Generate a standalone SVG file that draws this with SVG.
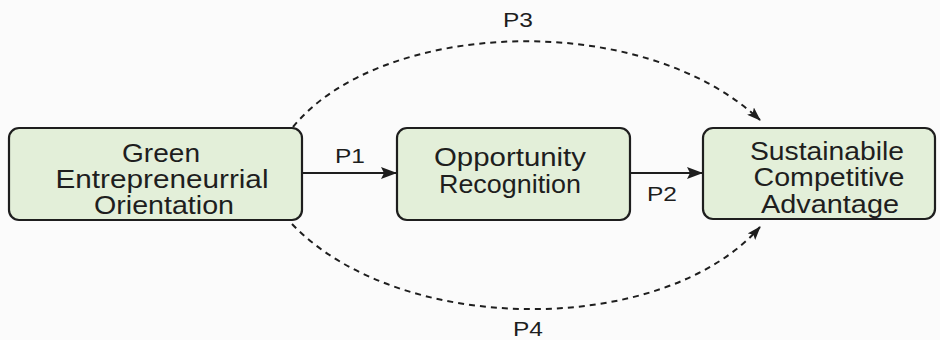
<svg xmlns="http://www.w3.org/2000/svg" width="940" height="340" viewBox="0 0 940 340">
<style>
.box{fill:#e3efd9;stroke:#1e1e1e;stroke-width:2.2}
.t{font-family:"Liberation Sans",Arial,sans-serif;font-size:25px;fill:#1e1e1e;text-anchor:middle}
.l{font-family:"Liberation Sans",Arial,sans-serif;font-size:20px;fill:#1e1e1e;text-anchor:middle}
.solid{fill:none;stroke:#1e1e1e;stroke-width:2.2}
.dash{fill:none;stroke:#1e1e1e;stroke-width:2;stroke-dasharray:6 5}
</style>
<defs>
<marker id="ah" markerWidth="16" markerHeight="12" refX="15" refY="6" orient="auto" markerUnits="userSpaceOnUse">
<path d="M0,0 L16,6 L0,12 L3,6 z" fill="#1e1e1e"/>
</marker>
<marker id="ahd" markerWidth="14" markerHeight="10" refX="13" refY="5" orient="auto" markerUnits="userSpaceOnUse">
<path d="M0,0 L14,5 L0,10 L3,5 z" fill="#1e1e1e"/>
</marker>
</defs>
<rect width="940" height="340" fill="#fbfbfb"/>
<g id="connectors">
<line class="solid" x1="302" y1="173" x2="396" y2="173" marker-end="url(#ah)"/>
<line class="solid" x1="630" y1="173" x2="702" y2="173" marker-end="url(#ah)"/>
<path class="dash" d="M293,127 C380,20 640,8 760,120" marker-end="url(#ahd)"/>
<path class="dash" d="M292,224 C400,337 663,337 760,227" marker-end="url(#ahd)"/>
<text class="l" x="350" y="163" textLength="30" lengthAdjust="spacingAndGlyphs">P1</text>
<text class="l" x="662" y="201" textLength="30" lengthAdjust="spacingAndGlyphs">P2</text>
<text class="l" x="518" y="27" textLength="30" lengthAdjust="spacingAndGlyphs">P3</text>
<text class="l" x="528" y="336" textLength="30" lengthAdjust="spacingAndGlyphs">P4</text>
</g>
<g id="node-geo">
<rect class="box" x="9" y="128" width="293" height="92" rx="10"/>
<text class="t" x="161" y="162" textLength="78" lengthAdjust="spacingAndGlyphs">Green</text>
<text class="t" x="162" y="188" textLength="213" lengthAdjust="spacingAndGlyphs">Entrepreneurrial</text>
<text class="t" x="164" y="214" textLength="140" lengthAdjust="spacingAndGlyphs">Orientation</text>
</g>
<g id="node-or">
<rect class="box" x="397" y="128" width="233" height="92" rx="10"/>
<text class="t" x="510" y="166" textLength="152" lengthAdjust="spacingAndGlyphs">Opportunity</text>
<text class="t" x="510" y="193" textLength="142" lengthAdjust="spacingAndGlyphs">Recognition</text>
</g>
<g id="node-sca">
<rect class="box" x="703" y="128" width="232" height="91" rx="10"/>
<text class="t" x="827" y="160" textLength="154" lengthAdjust="spacingAndGlyphs">Sustainabile</text>
<text class="t" x="829" y="186" textLength="151" lengthAdjust="spacingAndGlyphs">Competitive</text>
<text class="t" x="830" y="213" textLength="138" lengthAdjust="spacingAndGlyphs">Advantage</text>
</g>
</svg>
